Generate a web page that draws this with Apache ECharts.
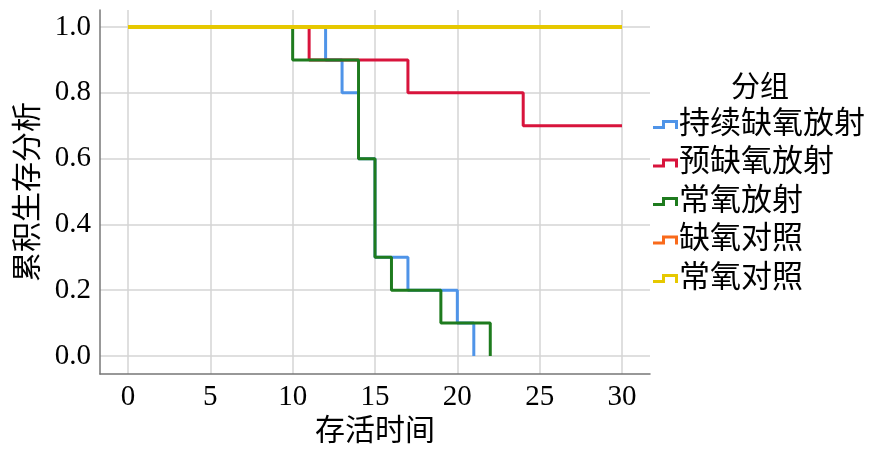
<!DOCTYPE html>
<html>
<head>
<meta charset="utf-8">
<script src="https://cdn.jsdelivr.net/npm/echarts@6/dist/echarts.min.js"></script>
<style>
  html, body { margin: 0; padding: 0; background: #fff; }
  #chart { width: 877px; height: 456px; }
</style>
</head>
<body>
<div id="chart"></div>
<script>
// 分组
const groupNames = ['持续缺氧放射', '预缺氧放射', '常氧放射', '缺氧对照', '常氧对照'];
const groupColors = ['#4f94e8', '#d8143c', '#1e7b1e', '#f96a1b', '#e6c800'];

// 存活时间 / 累积生存 for each group (step points)
const timeChixu = [0, 12, 13, 14, 15, 17, 20, 21];
const survChixu = [1.0, 0.9, 0.8, 0.6, 0.3, 0.2, 0.1, 0.0];
const timeYu = [0, 11, 17, 24, 30];
const survYu = [1.0, 0.9, 0.8, 0.7, 0.7];
const timeChang = [0, 10, 14, 15, 16, 19, 22];
const survChang = [1.0, 0.9, 0.6, 0.3, 0.2, 0.1, 0.0];
const timeQueDui = [0, 30];
const survQueDui = [1.0, 1.0];
const timeChangDui = [0, 30];
const survChangDui = [1.0, 1.0];

const xTicks = [0, 5, 10, 15, 20, 25, 30];
const yTicks = [0, 0.2, 0.4, 0.6, 0.8, 1.0];

const allTimes = [timeChixu, timeYu, timeChang, timeQueDui, timeChangDui];
const allSurv = [survChixu, survYu, survChang, survQueDui, survChangDui];

const fontFam = '"Liberation Serif", "Noto Sans CJK SC", serif';
const stepIcon = 'path://M0,6 L9,6 L9,0 L25,0 L25,9 L22,9 L22,3 L12,3 L12,9 L0,9 Z';

function pairs(ts, vs) {
    let arr = [];
    ts.forEach((t, i) => {
        arr.push([t, vs[i]]);
    });
    return arr;
}

let seriesList = [];
groupNames.forEach((name, i) => {
    seriesList.push({
        name: name,
        type: 'line',
        step: 'end',
        showSymbol: false,
        symbol: 'none',
        data: pairs(allTimes[i], allSurv[i]),
        lineStyle: { width: i === 4 ? 4 : 3, color: groupColors[i] },
        itemStyle: { color: groupColors[i] }
    });
});

let options = {
    animation: false,
    backgroundColor: '#fff',
    color: groupColors,
    title: {
        text: '分组',
        left: 731,
        top: 75,
        padding: 0,
        textStyle: { fontFamily: fontFam, fontSize: 29, fontWeight: 'normal', color: '#000' }
    },
    legend: {
        orient: 'vertical',
        left: 653,
        top: 109,
        padding: 0,
        itemGap: 7.5,
        itemWidth: 25,
        itemHeight: 9,
        icon: stepIcon,
        itemStyle: { borderWidth: 0 },
        data: groupNames,
        textStyle: { fontFamily: fontFam, fontSize: 31, color: '#000', padding: [0, 0, 0, -4] }
    },
    grid: { left: 100, right: 227, top: 10, bottom: 82, containLabel: false },
    xAxis: {
        type: 'value',
        min: -1.7,
        max: 31.7,
        name: '存活时间',
        nameLocation: 'middle',
        nameGap: 43,
        nameTextStyle: { fontFamily: fontFam, fontSize: 30, color: '#000' },
        axisLine: { show: true, onZero: false, lineStyle: { color: '#777', width: 1.5 } },
        axisTick: { show: false, customValues: xTicks },
        axisLabel: { customValues: xTicks, fontFamily: fontFam, fontSize: 29, color: '#000', margin: 9 },
        splitLine: { show: true, lineStyle: { color: '#d4d4d4', width: 1.5 } }
    },
    yAxis: {
        type: 'value',
        min: -0.055,
        max: 1.052,
        name: '累积生存分析',
        nameLocation: 'middle',
        nameGap: 55,
        nameTextStyle: { fontFamily: fontFam, fontSize: 30, color: '#000' },
        axisLine: { show: true, onZero: false, lineStyle: { color: '#777', width: 1.5 } },
        axisTick: { show: false, customValues: yTicks },
        axisLabel: {
            customValues: yTicks,
            fontFamily: fontFam, fontSize: 29, color: '#000', margin: 9,
            formatter: v => v.toFixed(1)
        },
        splitLine: { show: true, lineStyle: { color: '#d4d4d4', width: 1.5 } }
    },
    series: seriesList
};

let myCharts = echarts.init(document.getElementById('chart'));
myCharts.setOption(options);
</script>
</body>
</html>
